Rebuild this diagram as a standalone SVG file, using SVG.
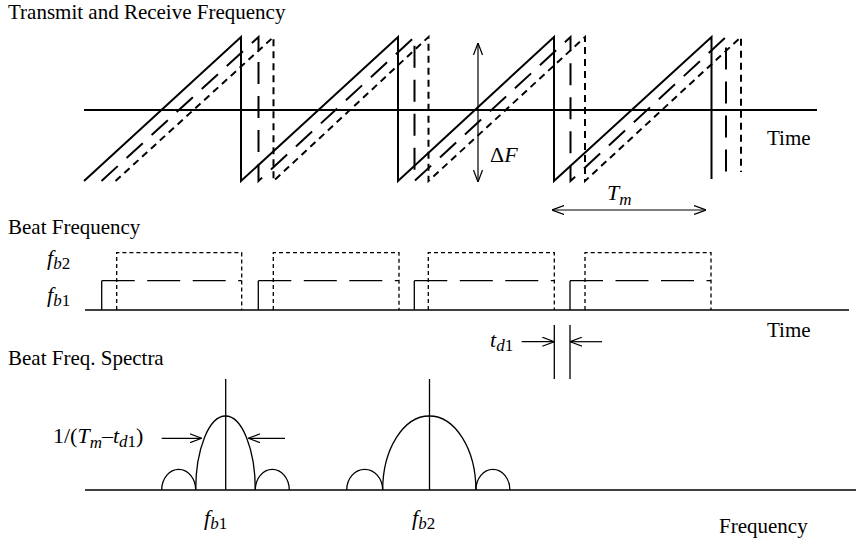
<svg xmlns="http://www.w3.org/2000/svg" width="856" height="541" viewBox="0 0 856 541">
<style>
text{font-family:"Liberation Serif","Times New Roman",serif;fill:#000}
.t{font-size:21px}
.m{font-size:22px}
.i{font-style:italic}
.ln{fill:none;stroke:#000;stroke-width:1.3}
.saw{fill:none;stroke:#000;stroke-width:2}
.ld{stroke-dasharray:22 12}
.sd{stroke-dasharray:7 5}
.bl{fill:none;stroke:#000;stroke-width:1.3;stroke-dasharray:33 12.5}
.bs{fill:none;stroke:#000;stroke-width:1.3;stroke-dasharray:4 3}
.ar{fill:none;stroke:#000;stroke-width:1.2;marker-end:url(#arr)}
.ar2{fill:none;stroke:#000;stroke-width:1.2;marker-end:url(#arr);marker-start:url(#arr)}
</style>
<defs>
<marker id="arr" viewBox="0 0 12 10" refX="12" refY="5" markerWidth="12" markerHeight="10" markerUnits="userSpaceOnUse" orient="auto-start-reverse">
<path d="M0,0.5 L12,5 L0,9.5" fill="none" stroke="#000" stroke-width="1.2"/>
</marker>
</defs>

<g id="transmit-receive">
<text class="t" x="8" y="19">Transmit and Receive Frequency</text>
<path d="M84,110 H817" fill="none" stroke="#000" stroke-width="2.2"/>
<path class="saw" d="M84,181 L241,37 V181 L398,37 V181 L554,37 V181 L711.5,37 V179"/>
<path class="saw ld" d="M101.5,181 L258.5,37 V181 L414.5,37 V181 L570.5,37 V181 L726,37 V172"/>
<path class="saw sd" d="M115.5,181 L273.5,37 V181 L428.5,37 V181 L585,37 V181 L741,37 V172"/>
<path class="ar2" d="M478,43 V182"/>
<text class="m" x="490" y="162">Δ<tspan class="i">F</tspan></text>
<text class="t" x="767" y="145">Time</text>
<path class="ar2" d="M552,210 H706"/>
<text class="m i" x="607" y="200">T<tspan font-size="17" dy="5">m</tspan></text>
</g>

<g id="beat-frequency">
<text class="t" x="8" y="234">Beat Frequency</text>
<text class="m i" x="47" y="265">f<tspan font-size="17" dy="4">b</tspan><tspan font-size="17" font-style="normal">2</tspan></text>
<text class="m i" x="47" y="302">f<tspan font-size="17" dy="4">b</tspan><tspan font-size="17" font-style="normal">1</tspan></text>
<path d="M85,310 H849" fill="none" stroke="#000" stroke-width="1.5"/>
<path class="ln" d="M101.7,310 V280.7 M258.3,310 V280.7 M414.3,310 V280.7 M570,310 V280.7"/>
<path class="bl" d="M101.7,280.7 H241.7"/>
<path class="bl" d="M258.3,280.7 H399"/>
<path class="bl" d="M414.3,280.7 H554.3"/>
<path class="bl" d="M570,280.7 H711"/>
<path class="bs" d="M116.7,310 V252.7 H241.7 V310"/>
<path class="bs" d="M273.3,310 V252.7 H399 V310"/>
<path class="bs" d="M428.3,310 V252.7 H554.3 V310"/>
<path class="bs" d="M585,310 V252.7 H711 V310"/>
<path class="ln" d="M554.3,325 V379 M570,325 V379"/>
<path class="ar" d="M521.7,341.7 H554.3"/>
<path class="ar" d="M602,341.7 H570"/>
<text class="m i" x="490" y="347">t<tspan font-size="17" dy="4">d</tspan><tspan font-size="17" font-style="normal">1</tspan></text>
<text class="t" x="767" y="337">Time</text>
</g>

<g id="spectra">
<text class="t" x="8" y="365">Beat Freq. Spectra</text>
<path d="M85,490 H856" fill="none" stroke="#000" stroke-width="1.5"/>
<path class="ln" d="M225.7,379 V490 M429.5,379 V490"/>
<path class="ln" d="M195.7,490 A29.8,74 0 0 1 255.3,490"/>
<path class="ln" d="M161.7,490 A17,20.7 0 0 1 195.7,490"/>
<path class="ln" d="M255.3,490 A17,20.7 0 0 1 289.3,490"/>
<path class="ln" d="M382.7,490 A46.6,74 0 0 1 475.9,490"/>
<path class="ln" d="M346.7,490 A18,20.7 0 0 1 382.7,490"/>
<path class="ln" d="M475.9,490 A17,20.7 0 0 1 509.9,490"/>
<path class="ar" d="M161.7,438.3 H201.7"/>
<path class="ar" d="M285,438.3 H248.3"/>
<text class="m" x="53" y="443">1/(<tspan class="i">T</tspan><tspan class="i" font-size="17" dy="5">m</tspan><tspan dy="-5">–</tspan><tspan class="i">t</tspan><tspan class="i" font-size="17" dy="4">d</tspan><tspan font-size="17">1</tspan><tspan dy="-4">)</tspan></text>
<text class="m i" x="204" y="525">f<tspan font-size="17" dy="4">b</tspan><tspan font-size="17" font-style="normal">1</tspan></text>
<text class="m i" x="412" y="525">f<tspan font-size="17" dy="4">b</tspan><tspan font-size="17" font-style="normal">2</tspan></text>
<text class="t" x="719" y="533">Frequency</text>
</g>
</svg>
